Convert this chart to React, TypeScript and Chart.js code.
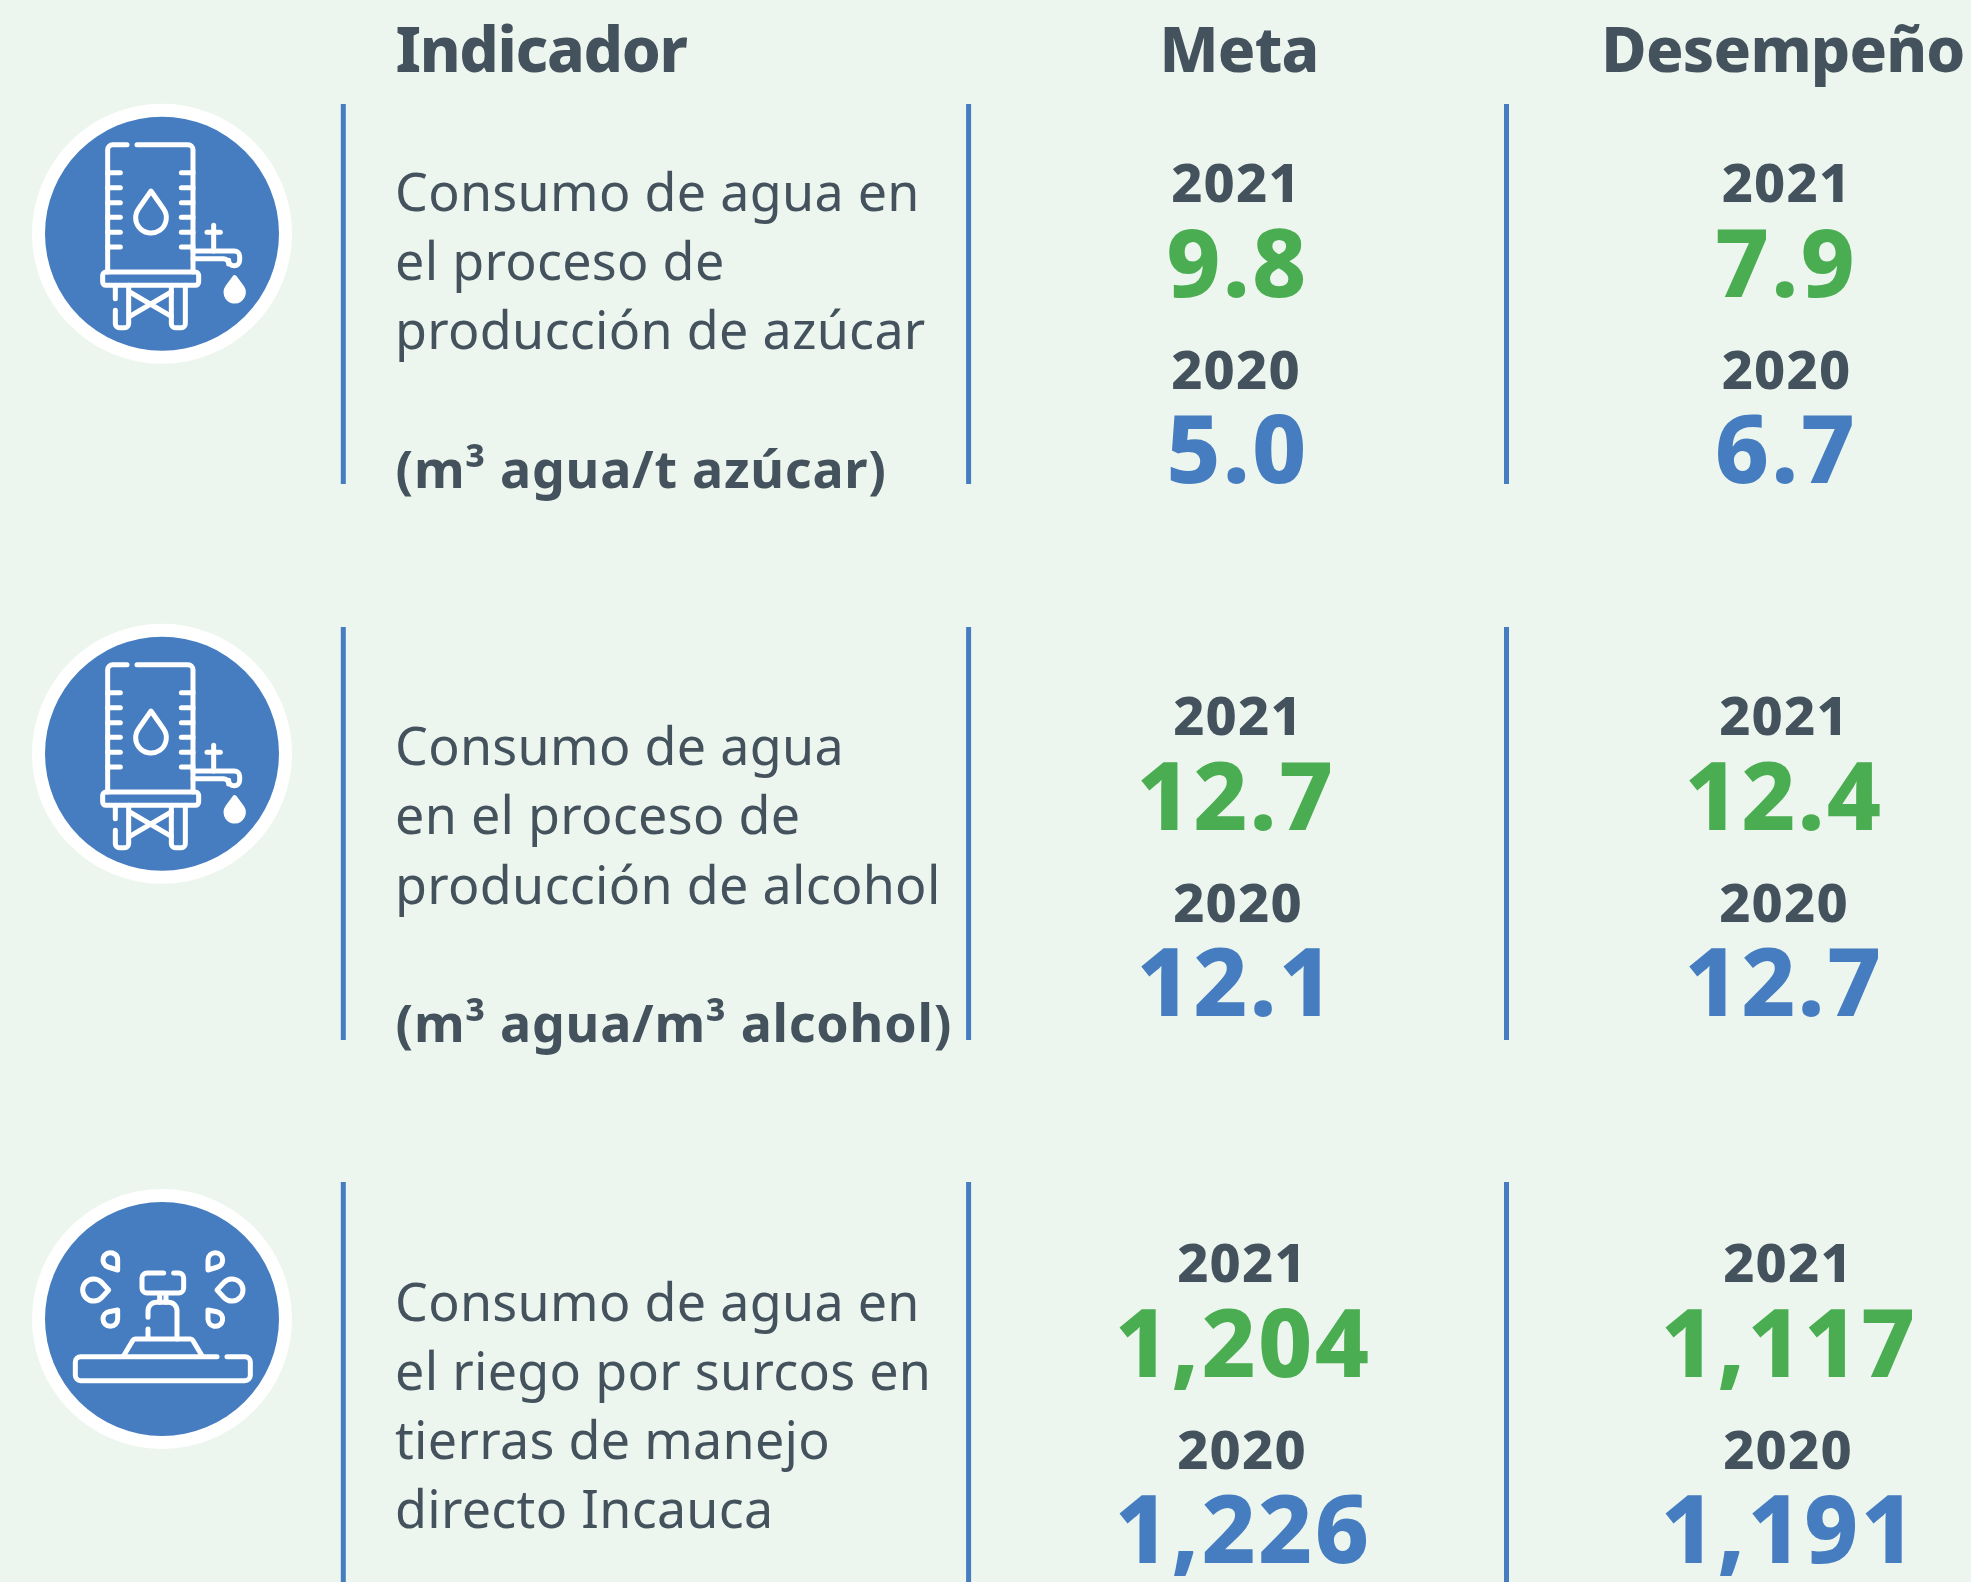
import React, { useEffect, useRef } from "react";
import { Chart, registerables } from "chart.js";

Chart.register(...registerables);

// ---- content ----
const columnTitles = ["Indicador", "Meta", "Desempeño"];
const years = ["2021", "2020"];
const indicatorLines = [
  ["Consumo de agua en", "el proceso de", "producción de azúcar"],
  ["Consumo de agua", "en el proceso de", "producción de alcohol"],
  ["Consumo de agua en", "el riego por surcos en", "tierras de manejo", "directo Incauca"],
];
const indicatorUnits = ["(m³ agua/t azúcar)", "(m³ agua/m³ alcohol)", ""];
const meta2021 = [9.8, 12.7, 1204];
const meta2020 = [5.0, 12.1, 1226];
const desempeno2021 = [7.9, 12.4, 1117];
const desempeno2020 = [6.7, 12.7, 1191];

// ---- style / layout ----
const W = 1971;
const H = 1582;
const BG = "#EDF6EE";
const BLUE = "#467DC0";
const GREEN = "#4AAD52";
const INK = "#44525D";
const FONT = "'Noto Sans'";
const ruleX = [343.3, 968.6, 1506.5];
const rowSpans = [[104, 484], [627, 1040], [1182, 1582]];
const iconY = [233.7, 753.7, 1319];
const textBase = [210.5, 765, 1320.5];
const unitBase = [487.5, 1042];
const yearBase = [201.7, 734.7, 1282];
const metaYearX = [1236, 1238, 1242];
const metaValX = [1237.5, 1236, 1243];
const desYearX = [1786.5, 1784, 1788];
const desValX = [1786, 1784, 1789];

const fmt = (v: number) => (v >= 100 ? v.toLocaleString("en-US") : v.toFixed(1));

type T = { x: number; y: number; label: string };

function textSet(points: T[], font: string, color: string, align: string, spacing: string) {
  return {
    type: "scatter" as const,
    data: points,
    pointRadius: 0,
    showLine: false,
    textStyle: { font, color, align, spacing },
  };
}

function buildDatasets() {
  const sets: any[] = [];
  rowSpans.forEach((s) => {
    ruleX.forEach((x) => {
      sets.push({
        type: "scatter",
        data: [{ x, y: s[0] }, { x, y: s[1] }],
        showLine: true,
        borderColor: BLUE,
        borderWidth: 5,
        pointRadius: 0,
      });
    });
  });
  const titles: T[] = [{ x: 395.5, y: 71.7, label: columnTitles[0] }];
  const titlesC: T[] = [
    { x: 1239, y: 71.7, label: columnTitles[1] },
    { x: 1783, y: 71.7, label: columnTitles[2] },
  ];
  sets.push(textSet(titles, `800 62px ${FONT}`, INK, "left", "-1.3px"));
  sets.push(textSet(titlesC, `800 62px ${FONT}`, INK, "center", "-0.8px"));

  const body: T[] = [];
  indicatorLines.forEach((lines, r) =>
    lines.forEach((label, j) => body.push({ x: 395, y: textBase[r] + j * 69.3, label }))
  );
  sets.push(textSet(body, `400 52px ${FONT}`, INK, "left", "0.3px"));

  const units: T[] = indicatorUnits
    .map((label, r) => ({ x: 395.5, y: unitBase[r], label }))
    .filter((t) => t.label);
  sets.push(textSet(units, `700 52px ${FONT}`, INK, "left", "0.75px"));

  const yearPts: T[] = [];
  const green: T[] = [];
  const blue: T[] = [];
  for (let r = 0; r < 3; r++) {
    [metaYearX[r], desYearX[r]].forEach((x) => {
      yearPts.push({ x, y: yearBase[r], label: years[0] });
      yearPts.push({ x, y: yearBase[r] + 186.8, label: years[1] });
    });
    green.push({ x: metaValX[r], y: yearBase[r] + 94.8, label: fmt(meta2021[r]) });
    green.push({ x: desValX[r], y: yearBase[r] + 94.8, label: fmt(desempeno2021[r]) });
    blue.push({ x: metaValX[r], y: yearBase[r] + 281, label: fmt(meta2020[r]) });
    blue.push({ x: desValX[r], y: yearBase[r] + 281, label: fmt(desempeno2020[r]) });
  }
  sets.push(textSet(yearPts, `800 54px ${FONT}`, INK, "center", "1.2px"));
  sets.push(textSet(green, `800 94px ${FONT}`, GREEN, "center", "2.3px"));
  sets.push(textSet(blue, `800 94px ${FONT}`, BLUE, "center", "2.3px"));
  return sets;
}

// ---- icons: zoomed icon units, 3 units = 1 px ----
function drop(ctx: CanvasRenderingContext2D, tx: number, ty: number, cx: number, cy: number, r: number) {
  const d = Math.hypot(tx - cx, ty - cy);
  const a = Math.atan2(ty - cy, tx - cx);
  const off = Math.acos(r / d);
  ctx.beginPath();
  ctx.moveTo(tx, ty);
  ctx.arc(cx, cy, r, a + off, a - off + Math.PI * 2);
  ctx.closePath();
}
function poly(ctx: CanvasRenderingContext2D, pts: number[][], r = 12) {
  ctx.beginPath();
  ctx.moveTo(pts[0][0], pts[0][1]);
  for (let i = 1; i < pts.length - 1; i++) ctx.arcTo(pts[i][0], pts[i][1], pts[i + 1][0], pts[i + 1][1], r);
  ctx.lineTo(pts[pts.length - 1][0], pts[pts.length - 1][1]);
  ctx.stroke();
}
function seg(ctx: CanvasRenderingContext2D, a: number, b: number, c: number, d: number) {
  ctx.beginPath();
  ctx.moveTo(a, b);
  ctx.lineTo(c, d);
  ctx.stroke();
}
function rrect(ctx: CanvasRenderingContext2D, x0: number, y0: number, x1: number, y1: number, r: number) {
  ctx.beginPath();
  ctx.roundRect(x0, y0, x1 - x0, y1 - y0, r);
  ctx.stroke();
}
function tankIcon(c: CanvasRenderingContext2D) {
  c.translate(-485, -460);
  poly(c, [[380, 193], [322, 193], [322, 575]], 15);
  poly(c, [[410, 193], [578, 193], [578, 575]], 15);
  [277, 322, 367, 411, 456, 500].forEach((y) => {
    seg(c, 322, y, 360, y);
    seg(c, 543, y, 578, y);
  });
  drop(c, 452, 332, 452, 412, 46);
  c.stroke();
  poly(c, [[578, 512], [718, 512], [718, 556], [685, 556], [685, 535], [578, 535]], 16);
  seg(c, 640, 435, 640, 512);
  seg(c, 620, 456, 660, 456);
  drop(c, 703, 592, 703, 636, 26);
  c.fill();
  c.stroke();
  rrect(c, 307, 575, 595, 615, 10);
  poly(c, [[345, 615], [345, 655]], 1);
  poly(c, [[345, 690], [345, 742], [385, 742], [385, 615]], 12);
  poly(c, [[513, 615], [513, 742], [555, 742], [555, 615]], 12);
  seg(c, 388, 635, 513, 708);
  seg(c, 513, 635, 388, 708);
}
function sprinklerIcon(c: CanvasRenderingContext2D) {
  c.translate(-485, -445);
  poly(c, [[650, 558], [225, 558], [225, 630], [750, 630], [750, 558], [680, 558]], 16);
  poly(c, [[370, 555], [400, 505], [575, 505], [605, 555]], 8);
  poly(c, [[530, 505], [530, 395], [443, 395], [443, 440]], 25);
  seg(c, 443, 475, 443, 500);
  poly(c, [[490, 307], [425, 307], [425, 367], [550, 367], [550, 307], [520, 307]], 15);
  seg(c, 478, 370, 478, 395);
  seg(c, 497, 370, 497, 395);
  const drops = [
    [325, 358, 280, 358, 33],
    [650, 358, 695, 358, 33],
    [352, 298, 330, 268, 22],
    [623, 298, 645, 268, 22],
    [352, 418, 330, 445, 22],
    [623, 418, 645, 445, 22],
  ];
  drops.forEach((d) => {
    drop(c, d[0], d[1], d[2], d[3], d[4]);
    c.stroke();
  });
}

const decorPlugin = {
  id: "decor",
  beforeDraw(chart: any) {
    const { ctx, width, height } = chart;
    ctx.save();
    ctx.fillStyle = BG;
    ctx.fillRect(0, 0, width, height);
    ctx.restore();
    const xs = chart.scales.x;
    const ys = chart.scales.y;
    iconY.forEach((cy, i) => {
      const px = xs.getPixelForValue(162);
      const py = ys.getPixelForValue(cy);
      ctx.save();
      ctx.fillStyle = "#FFFFFF";
      ctx.beginPath();
      ctx.arc(px, py, 130, 0, Math.PI * 2);
      ctx.fill();
      ctx.fillStyle = BLUE;
      ctx.beginPath();
      ctx.arc(px, py, 117, 0, Math.PI * 2);
      ctx.fill();
      ctx.translate(px, py);
      ctx.scale(1 / 3, 1 / 3);
      ctx.strokeStyle = "#FFFFFF";
      ctx.fillStyle = "#FFFFFF";
      ctx.lineWidth = 15;
      ctx.lineCap = "round";
      ctx.lineJoin = "round";
      if (i < 2) tankIcon(ctx);
      else sprinklerIcon(ctx);
      ctx.restore();
    });
  },
};

const textPlugin = {
  id: "texts",
  afterDatasetsDraw(chart: any) {
    const { ctx } = chart;
    chart.data.datasets.forEach((ds: any, i: number) => {
      if (!ds.textStyle) return;
      const meta = chart.getDatasetMeta(i);
      ctx.save();
      ctx.font = ds.textStyle.font;
      ctx.fillStyle = ds.textStyle.color;
      ctx.textAlign = ds.textStyle.align;
      ctx.textBaseline = "alphabetic";
      ctx.letterSpacing = ds.textStyle.spacing;
      meta.data.forEach((el: any, j: number) => {
        ctx.fillText(ds.data[j].label, el.x, el.y);
      });
      ctx.restore();
    });
  },
};

export default function App() {
  const ref = useRef<HTMLCanvasElement>(null);
  useEffect(() => {
    document.body.style.margin = "0";
    document.body.style.background = BG;
    const chart = new Chart(ref.current as HTMLCanvasElement, {
      type: "scatter",
      data: { datasets: buildDatasets() },
      options: {
        animation: false,
        responsive: false,
        layout: { padding: 0 },
        plugins: { legend: { display: false }, tooltip: { enabled: false } },
        scales: {
          x: { type: "linear", min: 0, max: W, display: false },
          y: { type: "linear", min: 0, max: H, reverse: true, display: false },
        },
      },
      plugins: [decorPlugin, textPlugin],
    } as any);
    return () => chart.destroy();
  }, []);
  return <canvas ref={ref} width={W} height={H} style={{ display: "block", width: W, height: H }} />;
}
